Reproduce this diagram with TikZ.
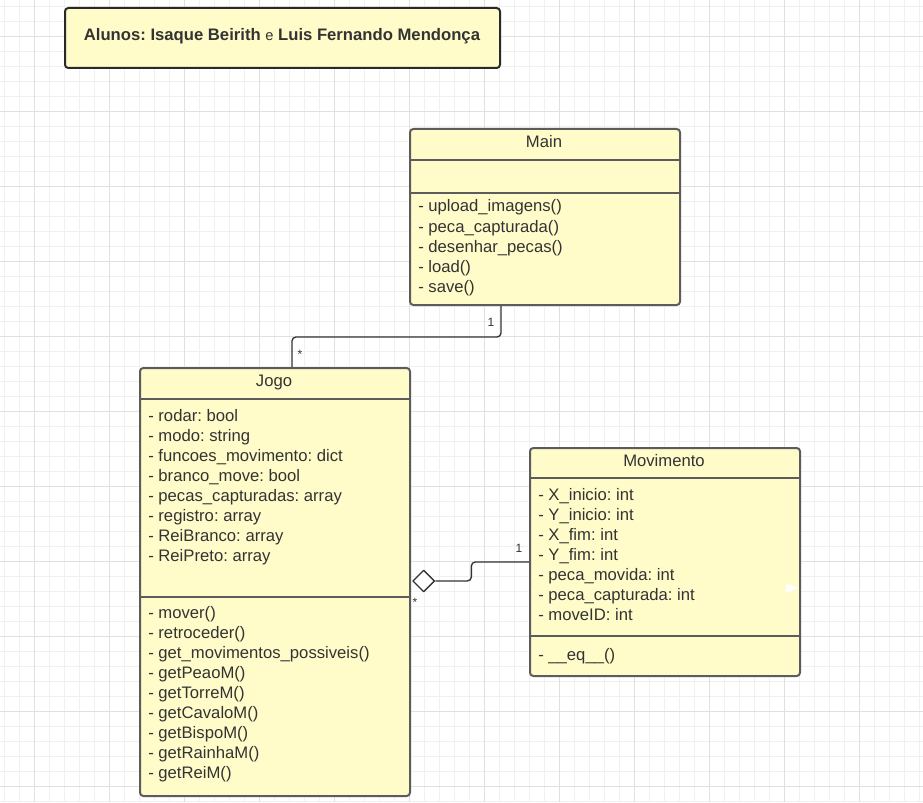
\documentclass[tikz,border=0pt]{standalone}
\usepackage{fontspec}
\setmainfont{Liberation Sans}
\usetikzlibrary{positioning,calc,shapes.geometric}
\definecolor{umlfill}{HTML}{FFFCCA}
\definecolor{umlline}{HTML}{5C5C5C}
\definecolor{umltext}{HTML}{333333}
\definecolor{gridminor}{HTML}{F0F0F0}
\definecolor{gridmajor}{HTML}{E0E0E0}
\tikzset{every picture/.append style={line join=round}}
\frenchspacing

\begin{document}
\begin{tikzpicture}[x=0.75pt,y=-0.75pt]
      \tikzstyle{classbox}=[draw=umlline,fill=umlfill,line width=1.5pt,rounded corners=2.5pt,anchor=north west,inner sep=0pt]
      \tikzstyle{titlebox}=[draw=umltext!80!black,fill=umlfill,line width=1.5pt,rounded corners=2.5pt,anchor=north west,inner sep=0pt]
      \tikzstyle{member}=[anchor=base west,inner sep=0pt,text=umltext,font=\fontsize{12.5}{14}\selectfont]
      \tikzstyle{header}=[anchor=base,inner sep=0pt,text=umltext,font=\fontsize{12.5}{14}\selectfont]
      \tikzstyle{divider}=[draw=umlline,line width=1.5pt]
      \tikzstyle{assoc}=[draw=umltext,line width=1pt,rounded corners=3pt]
      \tikzstyle{mult}=[inner sep=0pt,text=umltext,font=\fontsize{9}{10}\selectfont]
      \useasboundingbox (0,0) rectangle (923,802);
      \fill[white] (0,0) rectangle (923,802);
      % grid
      \foreach \x in {4,19,...,919} \draw[gridminor,line width=0.6pt] (\x,0) -- (\x,802);
      \foreach \y in {6,21,...,801} \draw[gridminor,line width=0.6pt] (0,\y) -- (923,\y);
      \foreach \x in {34,109,...,919} \draw[gridmajor,line width=0.7pt] (\x,0) -- (\x,802);
      \foreach \y in {36,111,...,801} \draw[gridmajor,line width=0.7pt] (0,\y) -- (923,\y);
      % title
      \node[titlebox,minimum width=326.25pt,minimum height=45pt] at (64,7) (title) {};
      \node[anchor=base,inner sep=0pt,text=umltext,font=\fontsize{12.5}{14}\selectfont] at (282,41) (names)
        {\textbf{Alunos: Isaque Beirith} {\fontsize{11}{12}\selectfont e} \textbf{Luis Fernando Mendonça}};
      % Main
      \node[classbox,minimum width=202.5pt,minimum height=132pt] at (409,128) (main) {};
      \draw[divider] (409,160) -- (679,160);
      \draw[divider] (409,193) -- (679,193);
      \node[header] at (544,148) (mainname) {Main};
      \foreach \t [count=\i from 0] in {- upload\_imagens(),- peca\_capturada(),- desenhar\_pecas(),- load(),- save()}
        \node[member] at (418,212+20*\i) (main-m\i) {\t};
      % Jogo
      \node[classbox,minimum width=202.5pt,minimum height=321pt] at (139,367) (jogo) {};
      \draw[divider] (139,399) -- (409,399);
      \draw[divider] (139,597) -- (409,597);
      \node[header] at (274,386) (jogoname) {Jogo};
      \foreach \t [count=\i from 0] in {- rodar: bool,- modo: string,- funcoes\_movimento: dict,- branco\_move: bool,- pecas\_capturadas: array,- registro: array,- ReiBranco: array,- ReiPreto: array}
        \node[member] at (148,421+20*\i) (jogo-a\i) {\t};
      \foreach \t [count=\i from 0] in {- mover(),- retroceder(),- get\_movimentos\_possiveis(),- getPeaoM(),- getTorreM(),- getCavaloM(),- getBispoM(),- getRainhaM(),- getReiM()}
        \node[member] at (148,618+20*\i) (jogo-m\i) {\t};
      % Movimento
      \node[classbox,minimum width=202.5pt,minimum height=171pt] at (529,447) (mov) {};
      \draw[divider] (529,478) -- (799,478);
      \draw[divider] (529,636) -- (799,636);
      \node[header] at (664,466) (movname) {Movimento};
      \foreach \t [count=\i from 0] in {- X\_inicio: int,- Y\_inicio: int,- X\_fim: int,- Y\_fim: int,- peca\_movida: int,- peca\_capturada: int,- moveID: int}
        \node[member] at (538,500+20*\i) (mov-a\i) {\t};
      \node[member] at (538,660) (mov-m0) {- \_\_eq\_\_()};
      \fill[white] (786,584) -- (799,588) -- (786,593) -- cycle;
      % relations
      \draw[assoc] ($(main.south west)+(92,0)$) -- ++(0,31) -| ($(jogo.north west)+(153,0)$);
      \node[mult] at (491,322) (m1) {1};
      \node[mult] at (300,354) (m2) {*};
      \node[draw=umltext,fill=white,line width=1pt,diamond,inner sep=0pt,minimum width=16.5pt,minimum height=16.5pt,anchor=west]
        at ($(jogo.east)+(1,-1)$) (agg) {};
      \draw[assoc] (agg.east) -- ++(36,0) |- (mov.west);
      \node[mult] at (519,548) (m3) {1};
      \node[mult] at (415,602) (m4) {*};
    \end{tikzpicture}
\end{document}
